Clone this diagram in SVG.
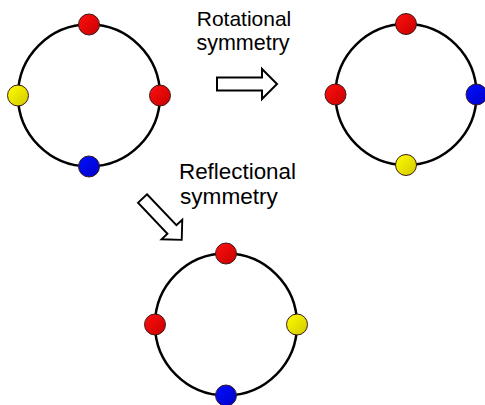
<svg xmlns="http://www.w3.org/2000/svg" width="485" height="405" viewBox="0 0 485 405">
  <defs>
    <linearGradient id="gRed" x1="0" y1="0" x2="1" y2="1">
      <stop offset="0" stop-color="#ff1010"/>
      <stop offset="1" stop-color="#c80000"/>
    </linearGradient>
    <linearGradient id="gYel" x1="0" y1="0" x2="1" y2="1">
      <stop offset="0" stop-color="#ffff00"/>
      <stop offset="1" stop-color="#d2c800"/>
    </linearGradient>
    <linearGradient id="gBlu" x1="0" y1="0" x2="1" y2="1">
      <stop offset="0" stop-color="#0010ff"/>
      <stop offset="1" stop-color="#0000c8"/>
    </linearGradient>
    <path id="arrowShape" d="M0,-6.5 H45 V-15 L60,0 L45,15 V6.5 H0 Z"/>
  </defs>
  <style>
    .ring { fill: none; stroke: #000; stroke-width: 2.5; }
    .dot { stroke: #3a1a1a; stroke-width: 1; }
    .red { fill: url(#gRed); }
    .yel { fill: url(#gYel); }
    .blu { fill: url(#gBlu); }
    .arrow { fill: #fff; stroke: #000; stroke-width: 2; stroke-linejoin: miter; }
    .lbl { font-family: "Liberation Sans", Arial, sans-serif; fill: #000; }
  </style>

  <g id="ring-original">
    <circle class="ring" cx="89" cy="95.5" r="71"/>
    <circle class="dot red" cx="89" cy="24.5" r="10.5"/>
    <circle class="dot yel" cx="18" cy="95.5" r="10.5"/>
    <circle class="dot red" cx="160" cy="95.5" r="10.5"/>
    <circle class="dot blu" cx="89" cy="166.5" r="10.5"/>
  </g>

  <g id="ring-rotated">
    <circle class="ring" cx="406" cy="94.5" r="70.5"/>
    <circle class="dot red" cx="406" cy="24" r="10.5"/>
    <circle class="dot red" cx="335.5" cy="94.5" r="10.5"/>
    <circle class="dot blu" cx="476.5" cy="94.5" r="10.5"/>
    <circle class="dot yel" cx="406" cy="165" r="10.5"/>
  </g>

  <g id="ring-reflected">
    <circle class="ring" cx="226" cy="324.5" r="71"/>
    <circle class="dot red" cx="226" cy="253.5" r="10.5"/>
    <circle class="dot red" cx="155" cy="324.5" r="10.5"/>
    <circle class="dot yel" cx="297" cy="324.5" r="10.5"/>
    <circle class="dot blu" cx="226" cy="395.5" r="10.5"/>
  </g>

  <g id="connectors">
    <g id="arrow-rotational">
      <use href="#arrowShape" class="arrow" transform="translate(217,84)"/>
      <text class="lbl" x="244" y="26" font-size="21" text-anchor="middle">Rotational</text>
      <text class="lbl" x="243" y="50" font-size="21.5" text-anchor="middle">symmetry</text>
    </g>
    <g id="arrow-reflectional">
      <use href="#arrowShape" class="arrow" transform="translate(142.5,198.5) rotate(46.5) scale(0.95)"/>
      <text class="lbl" x="179" y="179" font-size="22.4">Reflectional</text>
      <text class="lbl" x="180" y="203.5" font-size="22.6">symmetry</text>
    </g>
  </g>
</svg>
